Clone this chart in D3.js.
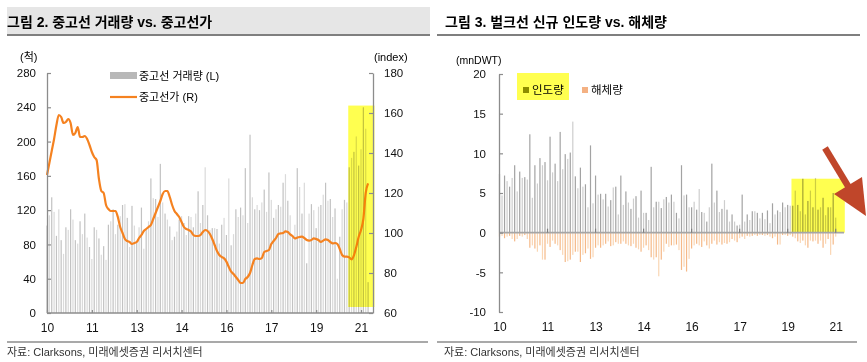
<!DOCTYPE html>
<html>
<head>
<meta charset="utf-8">
<script src="https://cdn.jsdelivr.net/npm/d3@7"></script>
<style>
  body { margin: 0; background: #fff; }
  text { font-family: "Liberation Sans", "Noto Sans CJK KR", sans-serif; }
</style>
</head>
<body>
<div id="chart"></div>
<script>
// x tick labels, one every 19 months starting Jan 2010
const tickLabels = ["10", "11", "13", "14", "16", "17", "19", "21"];
const tickStep = 19;

// 중고선 거래량 (척), monthly
const volume = [102,114,135,118,90,121,85,69,100,97,121,109,85,81,107,92,116,88,77,63,
  100,97,87,68,78,62,103,107,121,92,103,113,126,127,111,77,125,102,82,100,
  123,75,97,107,157,134,133,112,174,129,116,109,101,85,89,95,109,113,105,91,
  113,112,100,116,142,105,126,170,114,
  97,99,99,98,81,103,111,91,157,79,92,121,112,123,114,169,105,208,135,121,
  126,120,129,144,118,164,132,111,121,126,124,152,162,131,114,89,103,169,147,116,
  152,58,116,127,120,99,124,126,138,152,131,133,112,122,40,89,121,132,129,170,
  181,188,206,172,191,240,215,36];

// 중고선가 (index), monthly
const price = [129,135,141,147,154,159,158,155,155.5,157,
  155,149,150,153,148,148,148.5,147,144,140.5,
  138,136.5,127,121,120,114,112,111,111,111,
  108,103,100,97,96,95.5,94.5,95,95.5,97.5,
  99,101,102,103,104,107,110,113,116,119.5,
  121,121,118,114,111,109.5,108,105.5,103,102,
  101.5,100.7,99,98.5,98.5,99,100.5,101.5,101,99.5,
  97,94,91,89,88,87.3,85.7,83,80.7,79.5,
  78,76.5,75,75,77,78,80,84,87,87.3,
  87,87.5,90.5,91,91.5,94.5,96,97.5,99.5,99.8,
  100,100.8,100.5,99.3,98.5,97.3,97.7,98,98.2,97.5,
  96.5,96.2,96.5,97.3,97,96.5,95.5,96.2,96.8,96.5,
  95.5,94.8,95,94.5,92,89,88.2,88.2,87.8,86.8,
  88.8,93,98,101.5,107,120,124.8];

// 벌크선 인도량 (mnDWT), monthly
const delivery = [7.4,4.7,7.2,6.5,5.8,6.9,8.5,5.2,7.7,6.9,
  7.0,6.7,12.4,4.4,8.5,6.2,9.4,8.5,8.9,6.6,
  12.1,7.6,8.7,6.5,12.7,8.0,9.9,9.3,10.1,14.0,
  7.1,5.6,8.2,5.8,6.1,3.2,11.0,3.7,7.2,4.8,
  4.9,4.2,4.9,3.3,4.1,5.7,5.8,2.3,7.2,3.5,
  5.2,3.8,3.0,4.3,4.6,1.9,5.3,2.5,2.5,1.6,
  8.3,3.2,3.9,3.9,3.1,4.2,4.5,3.8,4.8,3.9,
  2.5,1.8,8.5,4.7,4.8,3.2,3.2,3.9,2.9,5.5,
  2.6,2.5,1.4,3.2,8.7,3.8,5.3,2.6,3.0,4.1,
  2.9,1.4,2.3,1.4,0.9,1.0,4.8,1.4,2.3,1.6,
  2.7,2.7,2.5,1.8,2.5,1.7,2.8,1.2,3.7,2.3,
  2.8,2.6,3.8,3.2,3.5,3.4,3.4,5.3,3.5,2.7,
  6.8,2.3,4.0,5.3,3.2,6.9,2.9,3.2,4.4,2.2,
  3.2,3.2,5.0,1.9];

// 벌크선 해체량 (mnDWT), monthly
const demolition = [-0.5,-0.4,-0.7,-0.5,-0.4,-0.8,-1.1,-0.8,-0.4,-0.5,
  -0.3,-0.8,-1.9,-1.6,-2.0,-2.4,-1.6,-3.4,-3.4,-1.4,
  -1.8,-1.0,-1.4,-1.6,-2.2,-2.8,-3.7,-3.6,-3.4,-2.8,
  -2.4,-2.4,-3.7,-2.8,-2.6,-2.0,-3.3,-3.1,-1.9,-1.6,
  -1.9,-1.6,-1.4,-1.1,-1.7,-1.6,-1.2,-1.4,-1.4,-1.1,
  -1.4,-1.6,-1.7,-1.4,-1.9,-2.1,-2.4,-1.9,-1.6,-2.2,
  -3.1,-3.4,-3.1,-5.5,-3.4,-2.4,-1.4,-1.8,-1.6,-1.6,
  -1.5,-2.2,-4.7,-4.3,-4.9,-3.3,-2.0,-1.6,-1.4,-1.6,
  -1.8,-1.1,-1.6,-2.0,-1.4,-1.0,-1.5,-1.2,-1.5,-1.3,
  -1.4,-1.2,-0.8,-1.0,-1.2,-0.7,-0.5,-0.8,-0.4,-0.5,
  -0.4,-0.3,-0.4,-0.3,-0.3,-0.4,-0.3,-0.5,-0.7,-0.5,
  -1.5,-1.5,-0.3,-0.3,-0.4,-0.3,-0.5,-0.7,-1.1,-1.3,
  -1.0,-1.6,-1.9,-1.0,-1.1,-1.0,-1.4,-1.0,-1.9,-1.4,
  -0.8,-2.8,-1.5,-0.5];

const tickIdx = tickLabels.map((d, i) => i * tickStep);
const axisColor = "#8c8c8c";

const svg = d3.select("#chart").append("svg")
    .attr("width", 867)
    .attr("height", 362);

function styleAxis(g) {
    g.selectAll(".domain").attr("stroke", axisColor).attr("stroke-width", 1.3);
    g.selectAll(".tick line").attr("stroke", axisColor).attr("stroke-width", 1.2);
    g.selectAll("text").attr("fill", "#111").style("font-size", "11.5px");
}

// ---------- headers / footers ----------
svg.append("rect").attr("x", 7).attr("y", 7).attr("width", 423).attr("height", 28).attr("fill", "#e6e6e6");
svg.append("line").attr("x1", 7).attr("x2", 430).attr("y1", 35).attr("y2", 35)
    .attr("stroke", "#7f7f7f").attr("stroke-width", 2);
svg.append("line").attr("x1", 437).attr("x2", 860).attr("y1", 35).attr("y2", 35)
    .attr("stroke", "#7f7f7f").attr("stroke-width", 2);

svg.append("text").attr("x", 7).attr("y", 27)
    .style("font-size", "14px").style("font-weight", "bold")
    .text("그림 2. 중고선 거래량 vs. 중고선가");
svg.append("text").attr("x", 445).attr("y", 27)
    .style("font-size", "14px").style("font-weight", "bold")
    .text("그림 3. 벌크선 신규 인도량 vs. 해체량");

svg.append("line").attr("x1", 7).attr("x2", 428).attr("y1", 342).attr("y2", 342)
    .attr("stroke", "#8c8c8c").attr("stroke-width", 1.3);
svg.append("line").attr("x1", 437).attr("x2", 857).attr("y1", 342).attr("y2", 342)
    .attr("stroke", "#8c8c8c").attr("stroke-width", 1.3);
[7, 444].forEach(x => {
    svg.append("text").attr("x", x).attr("y", 356)
        .attr("fill", "#333").style("font-size", "11px")
        .text("자료: Clarksons, 미래에셋증권 리서치센터");
});

// ---------- left chart ----------
const xL = d3.scaleLinear().domain([0, 133]).range([47, 361]);
const yL = d3.scaleLinear().domain([0, 280]).range([313, 73]);
const yR = d3.scaleLinear().domain([60, 180]).range([313, 73]);

const left = svg.append("g");

left.append("g")
    .selectAll("rect")
    .data(volume)
    .enter()
    .append("rect")
    .attr("x", (d, i) => xL(i) - 0.6)
    .attr("y", d => yL(d))
    .attr("width", 1.2)
    .attr("height", d => yL(0) - yL(d))
    .attr("fill", (d, i) => i % 2 ? "#dadada" : "#c2c2c2");

const line = d3.line()
    .x((d, i) => xL(i))
    .y(d => yR(d))
    .curve(d3.curveMonotoneX);

left.append("path")
    .datum(price)
    .attr("d", line)
    .attr("fill", "none")
    .attr("stroke", "#f58220")
    .attr("stroke-width", 2.2);

// highlight box
left.append("rect")
    .attr("x", xL(127.6))
    .attr("y", yL(242))
    .attr("width", xL(138.7) - xL(127.6))
    .attr("height", yL(7) - yL(242))
    .attr("fill", "#ffff50")
    .style("mix-blend-mode", "multiply");

left.append("g")
    .attr("transform", `translate(${xL(0)},0)`)
    .call(d3.axisLeft(yL).tickValues(d3.range(0, 281, 40)).tickSize(-4).tickSizeOuter(0).tickPadding(11))
    .call(styleAxis);

left.append("g")
    .attr("transform", `translate(373,0)`)
    .call(d3.axisRight(yR).tickValues(d3.range(60, 181, 20)).tickSize(-4).tickSizeOuter(0).tickPadding(11))
    .call(styleAxis);

const xAxisL = left.append("g")
    .attr("transform", `translate(0,${yL(0)})`)
    .call(d3.axisBottom(xL).tickValues(tickIdx).tickFormat((d, i) => tickLabels[i])
        .tickSize(-3).tickPadding(10))
    .call(styleAxis);
xAxisL.select(".domain").remove();
xAxisL.selectAll("text").style("font-size", "12px");
left.append("line")
    .attr("x1", xL(0)).attr("x2", 373)
    .attr("y1", yL(0)).attr("y2", yL(0))
    .attr("stroke", axisColor).attr("stroke-width", 1.3);

left.append("text").attr("x", 20).attr("y", 61).style("font-size", "11px").text("(척)");
left.append("text").attr("x", 374).attr("y", 61).style("font-size", "11px").text("(index)");

// legend
left.append("rect").attr("x", 110).attr("y", 72).attr("width", 27).attr("height", 7).attr("fill", "#b8b8b8");
left.append("text").attr("x", 139).attr("y", 80).style("font-size", "11px").text("중고선 거래량 (L)");
left.append("line").attr("x1", 110).attr("x2", 137).attr("y1", 97).attr("y2", 97)
    .attr("stroke", "#f58220").attr("stroke-width", 2.2);
left.append("text").attr("x", 139).attr("y", 101).style("font-size", "11px").text("중고선가 (R)");

// ---------- right chart ----------
const xR = d3.scaleLinear().domain([0, 133]).range([499.5, 835.7]);
const yD = d3.scaleLinear().domain([-10, 20]).range([312, 74]);

const right = svg.append("g");

right.append("g")
    .selectAll("rect")
    .data(delivery)
    .enter()
    .append("rect")
    .attr("x", (d, i) => xR(i) - 0.6)
    .attr("y", d => yD(d))
    .attr("width", 1.2)
    .attr("height", d => yD(0) - yD(d))
    .attr("fill", (d, i) => i % 2 ? "#cdcdcd" : "#a3a3a3");

right.append("g")
    .selectAll("rect")
    .data(demolition)
    .enter()
    .append("rect")
    .attr("x", (d, i) => xR(i) - 0.6)
    .attr("y", yD(0))
    .attr("width", 1.2)
    .attr("height", d => yD(d) - yD(0))
    .attr("fill", (d, i) => i % 2 ? "#fad6b4" : "#f5b988");

right.append("rect")
    .attr("x", xR(115.5))
    .attr("y", yD(6.8))
    .attr("width", xR(136.6) - xR(115.5))
    .attr("height", yD(0) - yD(6.8))
    .attr("fill", "#ffff50")
    .style("mix-blend-mode", "multiply");

right.append("line")
    .attr("x1", 499).attr("x2", 844)
    .attr("y1", yD(0)).attr("y2", yD(0))
    .attr("stroke", "#a6a6a6").attr("stroke-width", 1.6);

right.append("g")
    .selectAll("line")
    .data(tickIdx.slice(1))
    .enter()
    .append("line")
    .attr("x1", d => xR(d)).attr("x2", d => xR(d))
    .attr("y1", yD(0) - 4).attr("y2", yD(0))
    .attr("stroke", "#7f7f7f").attr("stroke-width", 1.2);

right.append("g")
    .attr("transform", `translate(499,0)`)
    .call(d3.axisLeft(yD).tickValues(d3.range(-10, 21, 5)).tickFormat(d => String(d))
        .tickSize(-4).tickSizeOuter(0).tickPadding(13))
    .call(styleAxis);

const xAxisR = right.append("g")
    .attr("transform", `translate(0,${yD(-10)})`)
    .call(d3.axisBottom(xR).tickValues(tickIdx).tickFormat((d, i) => tickLabels[i])
        .tickSize(0).tickPadding(10))
    .call(styleAxis);
xAxisR.select(".domain").remove();
xAxisR.selectAll("text").style("font-size", "12px");

right.append("text").attr("x", 456).attr("y", 64).style("font-size", "10.5px").text("(mnDWT)");

// legend
right.append("rect").attr("x", 517).attr("y", 73).attr("width", 52).attr("height", 27).attr("fill", "#ffff50");
right.append("rect").attr("x", 523).attr("y", 87).attr("width", 6).attr("height", 6).attr("fill", "#8c8c00");
right.append("text").attr("x", 532).attr("y", 94).style("font-size", "11.5px").text("인도량");
right.append("rect").attr("x", 582).attr("y", 87).attr("width", 6).attr("height", 6).attr("fill", "#f4b183");
right.append("text").attr("x", 591).attr("y", 94).style("font-size", "11.5px").text("해체량");

// annotation arrow
right.append("line")
    .attr("x1", 825).attr("y1", 148).attr("x2", 851).attr("y2", 191)
    .attr("stroke", "#c0462a").attr("stroke-width", 6.5);
right.append("path")
    .attr("d", "M834,194 L862,177 L866,216 Z")
    .attr("fill", "#c0462a");
</script>
</body>
</html>
